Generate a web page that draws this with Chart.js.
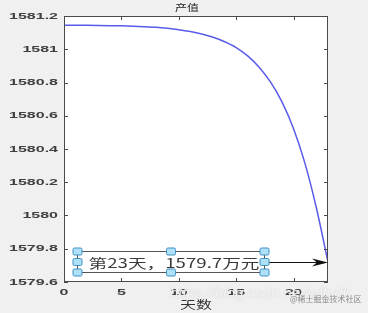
<!DOCTYPE html>
<html>
<head>
<meta charset="utf-8">
<script src="https://cdn.jsdelivr.net/npm/chart.js@4.4.1/dist/chart.umd.min.js"></script>
<style>
    html, body { margin: 0; padding: 0; background: #f0f0f0; }
    #wrap { width: 368px; height: 313px; position: relative; }
</style>
</head>
<body>
<div id="wrap"><canvas id="c"></canvas></div>
<script>
/* 資料 */
const days = [0, 1, 2, 3, 4, 5, 6, 7, 8, 9, 10, 11, 12, 13, 14, 15, 16, 17, 18, 19, 20, 21, 22, 23];
const outputValues = [
    1581.145, 1581.145, 1581.144, 1581.143, 1581.142, 1581.141, 1581.139, 1581.136,
    1581.132, 1581.126, 1581.118, 1581.107, 1581.092, 1581.072, 1581.045, 1581.010,
    1580.960, 1580.892, 1580.802, 1580.682, 1580.522, 1580.312, 1580.042, 1579.720
];
const xTicks = [0, 5, 10, 15, 20];
const yTicks = [1579.6, 1579.8, 1580, 1580.2, 1580.4, 1580.6, 1580.8, 1581, 1581.2];
const titleText = '产值';
const xLabelText = '天数';
const noteText = '第23天，1579.7万元';
// 註解框 (資料座標)
const noteBoxX = [1.13, 17.4];
const noteBoxY = [1579.658, 1579.784];
const arrowY = 1579.718;
const arrowEnd = 23;

const frameColor = '#4a4a4a';

/**
 * 以縮放方式繪製文字 (原圖文字被壓扁)
 */
function drawText(ctx, text, x, y, font, align, sx, sy, color) {
    ctx.save();
    ctx.translate(x, y);
    ctx.scale(sx, sy);
    ctx.font = font;
    ctx.fillStyle = color;
    ctx.textAlign = align;
    ctx.textBaseline = 'middle';
    ctx.fillText(text, 0, 0);
    ctx.restore();
}

function fmt(v) {
    return String(parseFloat(Number(v).toFixed(1)));
}

/* 繪製框線、刻度、註解 */
const matlabPlugin = {
    id: 'matlab',
    beforeDraw(chart) {
        const { ctx, chartArea: a } = chart;
        ctx.save();
        ctx.fillStyle = '#ffffff';
        ctx.fillRect(a.left, a.top, a.right - a.left, a.bottom - a.top);
        ctx.restore();
    },
    afterDraw(chart) {
        const { ctx, chartArea: a } = chart;
        const xs = chart.scales.x, ys = chart.scales.y;
        ctx.save();

        // 框線
        ctx.strokeStyle = frameColor;
        ctx.lineWidth = 1;
        ctx.strokeRect(a.left + 0.5, a.top + 0.5, a.right - a.left - 1, a.bottom - a.top - 1);

        // 內側刻度
        const tl = 4;
        ctx.beginPath();
        xTicks.forEach(v => {
            const px = Math.round(xs.getPixelForValue(v)) + 0.5;
            ctx.moveTo(px, a.bottom); ctx.lineTo(px, a.bottom - tl);
            ctx.moveTo(px, a.top); ctx.lineTo(px, a.top + tl);
        });
        yTicks.forEach(v => {
            const py = Math.round(ys.getPixelForValue(v)) + 0.5;
            ctx.moveTo(a.left, py); ctx.lineTo(a.left + tl, py);
            ctx.moveTo(a.right, py); ctx.lineTo(a.right - tl, py);
        });
        ctx.stroke();

        // 刻度標籤
        const tickFont = 'bold 16px "Liberation Sans"';
        yTicks.forEach(v => {
            drawText(ctx, fmt(v), a.left - 6, ys.getPixelForValue(v), tickFont, 'right', 1, 0.6, '#404040');
        });
        xTicks.forEach(v => {
            drawText(ctx, fmt(v), xs.getPixelForValue(v), a.bottom + 10, tickFont, 'center', 1, 0.6, '#404040');
        });

        // 標題與軸標籤
        drawText(ctx, titleText, 187, 8, '12px "Noto Sans CJK SC"', 'center', 1, 0.75, '#222');
        drawText(ctx, xLabelText, 196, 305, '16px "Noto Sans CJK SC"', 'center', 1, 0.72, '#333');

        // 註解框
        const bx0 = Math.round(xs.getPixelForValue(noteBoxX[0])) + 0.5;
        const bx1 = Math.round(xs.getPixelForValue(noteBoxX[1])) + 0.5;
        const by0 = Math.round(ys.getPixelForValue(noteBoxY[1])) + 0.5;
        const by1 = Math.round(ys.getPixelForValue(noteBoxY[0])) + 0.5;
        const ay = Math.round(ys.getPixelForValue(arrowY)) + 0.5;
        const ax1 = xs.getPixelForValue(arrowEnd);

        ctx.strokeStyle = '#555';
        ctx.lineWidth = 1;
        ctx.strokeRect(bx0, by0, bx1 - bx0, by1 - by0);

        // 註解文字，拉寬至框內
        ctx.save();
        ctx.font = '15px "Noto Sans CJK SC"';
        const tw = ctx.measureText(noteText).width;
        const targetW = (bx1 - 5) - (bx0 + 11);
        ctx.restore();
        drawText(ctx, noteText, bx0 + 11, (by0 + by1) / 2 + 1, '15px "Noto Sans CJK SC"', 'left', targetW / tw, 0.85, '#3a3a3a');

        // 箭頭
        ctx.strokeStyle = '#111';
        ctx.beginPath();
        ctx.moveTo(bx1, ay);
        ctx.lineTo(ax1 - 8, ay);
        ctx.stroke();
        ctx.fillStyle = '#111';
        ctx.beginPath();
        ctx.moveTo(ax1, ay);
        ctx.lineTo(ax1 - 16, ay - 4);
        ctx.lineTo(ax1 - 11, ay);
        ctx.lineTo(ax1 - 16, ay + 4);
        ctx.closePath();
        ctx.fill();

        // 選取控點
        const bxm = Math.round((bx0 + bx1) / 2);
        const bym = (by0 + by1) / 2;
        const handles = [
            [bx0, by0], [bxm, by0], [bx1, by0],
            [bx0, bym], [bx1, bym],
            [bx0, by1], [bxm, by1], [bx1, by1]
        ];
        handles.forEach(([hx, hy]) => {
            ctx.fillStyle = '#aee0f8';
            ctx.strokeStyle = '#3f8fc4';
            ctx.beginPath();
            ctx.roundRect(hx - 4.5, hy - 3.5, 9, 7, 1.5);
            ctx.fill();
            ctx.stroke();
        });

        // 浮水印
        ctx.save();
        ctx.font = 'italic 14px "Liberation Sans"';
        const ww = ctx.measureText('https://blog.csdn.net/wlfydk').width;
        ctx.restore();
        ctx.save();
        ctx.shadowColor = 'rgba(150,150,150,0.5)';
        ctx.shadowBlur = 1.5;
        drawText(ctx, 'https://blog.csdn.net/wlfydk', 170, 294, 'italic 14px "Liberation Sans"', 'left', 180 / ww, 1.05, 'rgba(248,248,250,0.85)');
        ctx.restore();
        drawText(ctx, '@稀土掘金技术社区', 290, 299, '8px "Noto Sans CJK SC"', 'left', 1, 1, 'rgba(110,110,110,0.8)');

        ctx.restore();
    }
};

new Chart(document.getElementById('c'), {
    type: 'line',
    data: {
        labels: days,
        datasets: [{
            data: days.map((d, i) => ({ x: d, y: outputValues[i] })),
            borderColor: '#5b5bea',
            borderWidth: 1.5,
            pointRadius: 0,
            cubicInterpolationMode: 'monotone',
            fill: false
        }]
    },
    options: {
        responsive: true,
        maintainAspectRatio: false,
        animation: false,
        layout: { padding: { top: 16, right: 40, left: 0, bottom: 0 } },
        plugins: {
            legend: { display: false },
            tooltip: { enabled: false }
        },
        scales: {
            x: {
                type: 'linear',
                min: 0,
                max: 23,
                grid: { display: false },
                border: { display: false },
                afterBuildTicks: s => { s.ticks = xTicks.map(v => ({ value: v })); },
                afterFit: s => { s.height = 31; },
                ticks: { display: false }
            },
            y: {
                min: 1579.6,
                max: 1581.2,
                grid: { display: false },
                border: { display: false },
                afterBuildTicks: s => { s.ticks = yTicks.map(v => ({ value: v })); },
                afterFit: s => { s.width = 64; },
                ticks: { display: false }
            }
        }
    },
    plugins: [matlabPlugin]
});
</script>
</body>
</html>
